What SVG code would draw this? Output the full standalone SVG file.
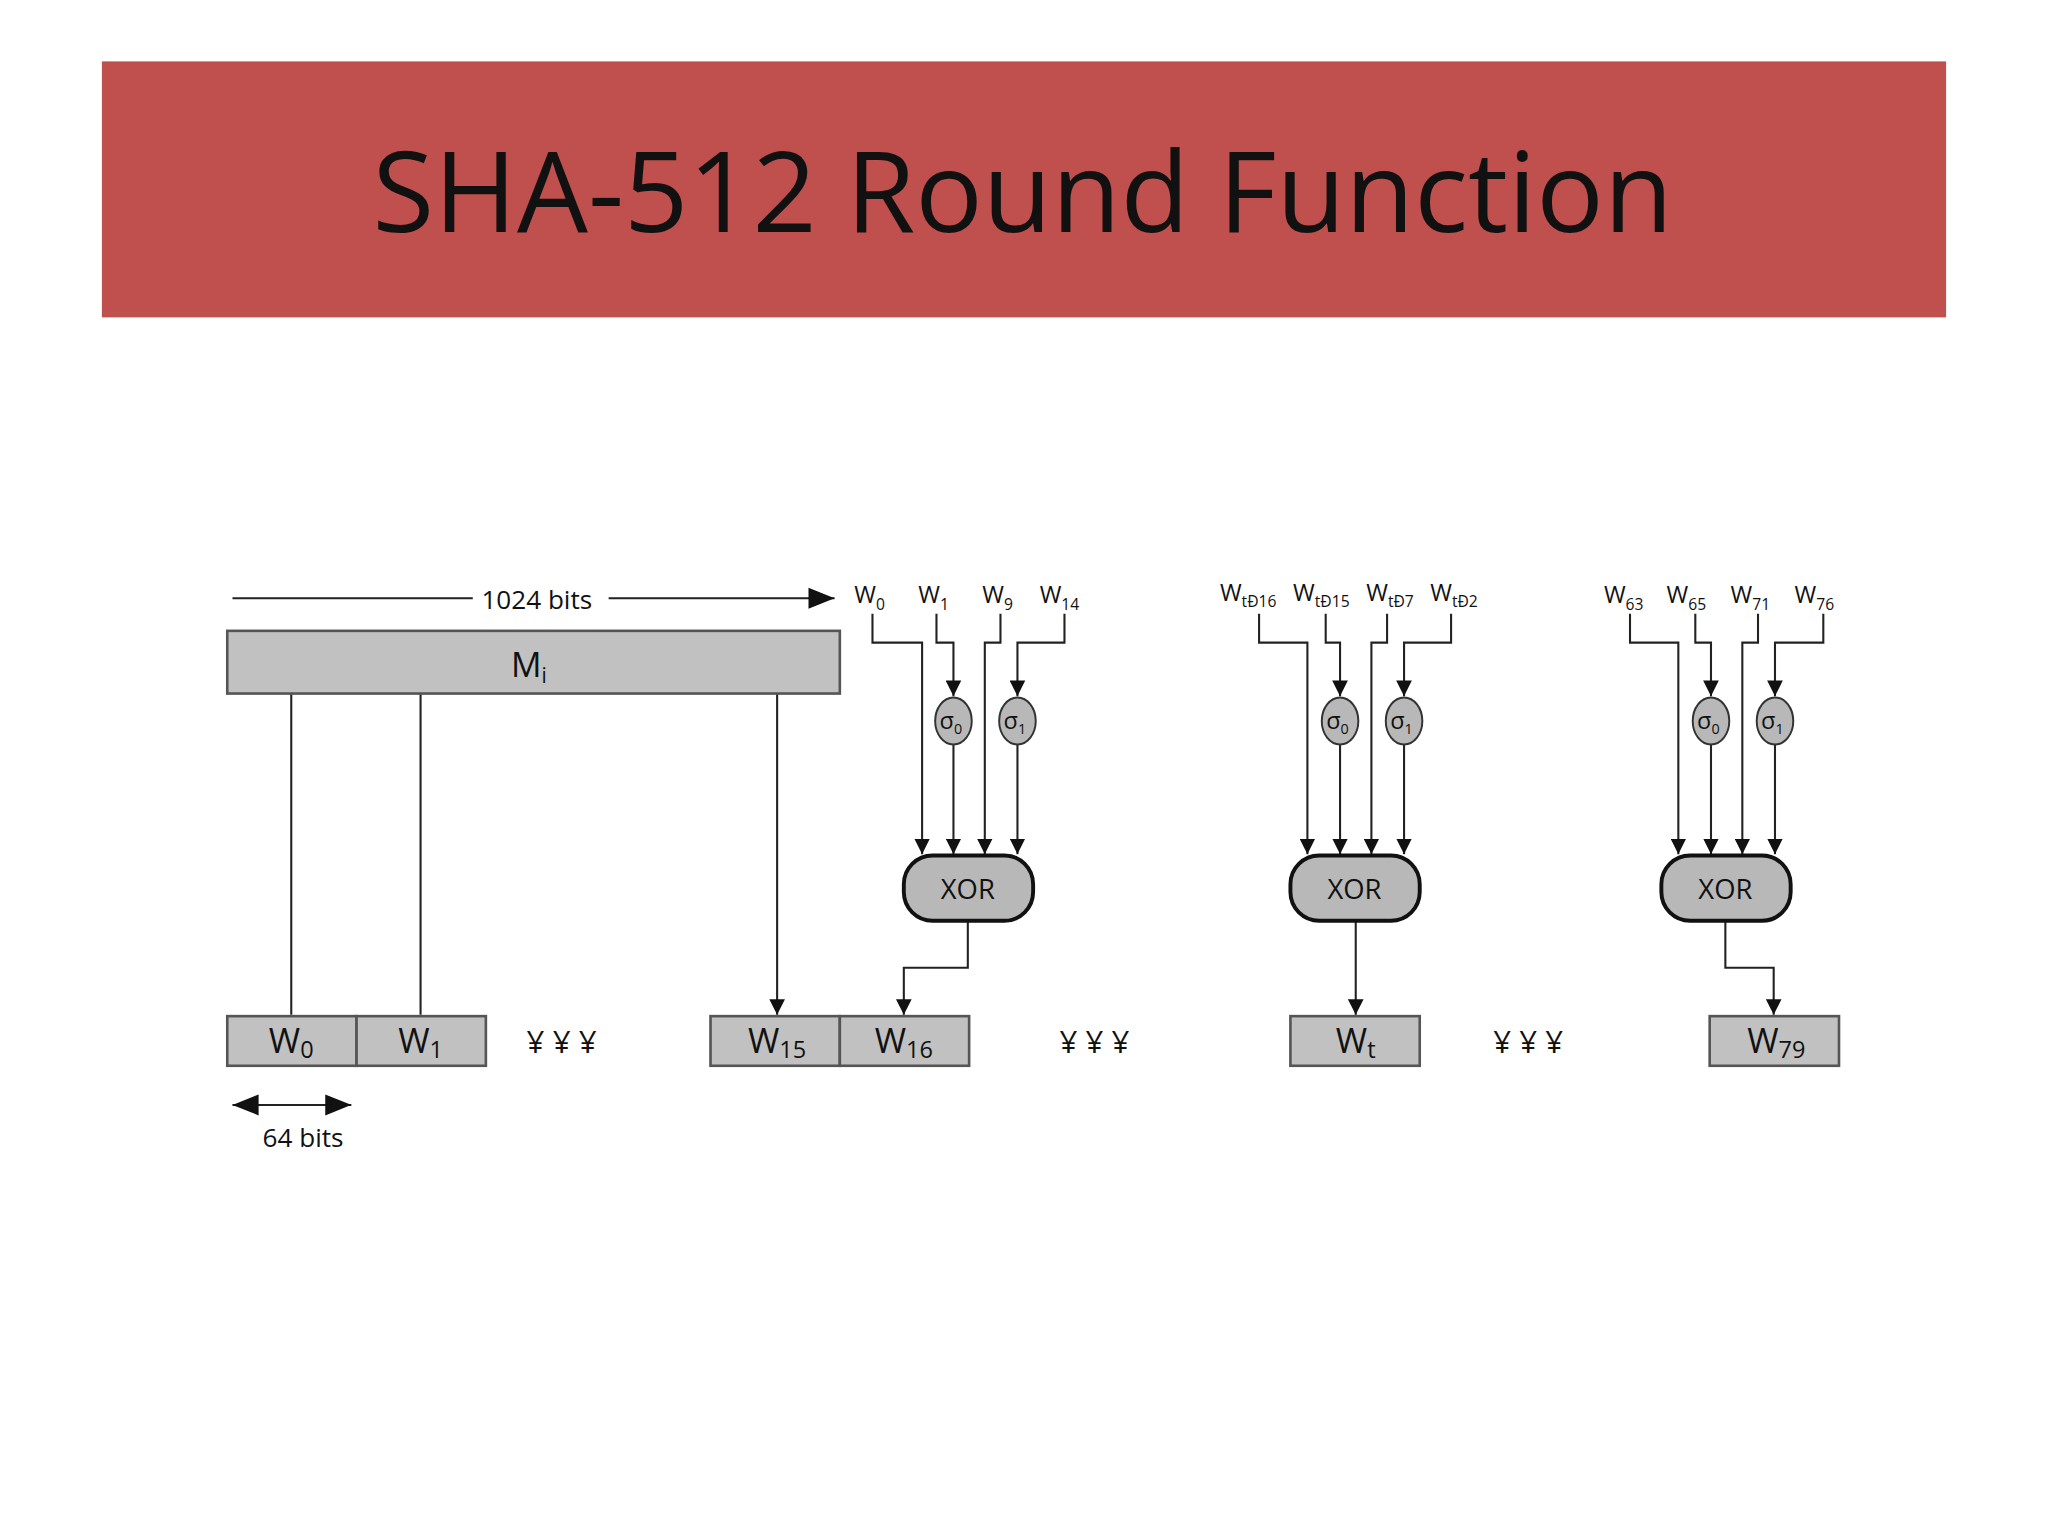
<svg xmlns="http://www.w3.org/2000/svg" width="2048" height="1536" viewBox="0 0 2048 1536">
<style>
.t{font-family:"Open Sans","Liberation Sans",sans-serif;fill:#111}
.ln{stroke:#222;stroke-width:1.6;fill:none}
.box{fill:#c0c1c0;stroke:#555;stroke-width:2}
.gx{fill:#b8b8b8;stroke:#111;stroke-width:3}
.sg{fill:#b8b8b8;stroke:#333;stroke-width:1.5}
</style>
<defs>
<marker id="a" viewBox="0 0 10 10" refX="10" refY="5" markerWidth="7" markerHeight="7" orient="auto" markerUnits="userSpaceOnUse"><path d="M0,0L10,5L0,10z" fill="#111"/></marker>
<marker id="b" viewBox="0 0 10 10" refX="10" refY="5" markerWidth="12" markerHeight="12" orient="auto" markerUnits="userSpaceOnUse"><path d="M0,0L10,5L0,10z" fill="#111"/></marker>
<marker id="c" viewBox="0 0 10 10" refX="10" refY="5" markerWidth="20" markerHeight="20" orient="auto-start-reverse" markerUnits="userSpaceOnUse"><path d="M0,1L10,5L0,9z" fill="#111"/></marker>
</defs>
<rect width="2048" height="1536" fill="#fff"/>
<g transform="scale(1.3061)">
<g id="title"><rect x="78" y="47" width="1412" height="196" fill="#c0504d"/>
<text class="t" x="783" y="178" font-size="86" text-anchor="middle">SHA-512 Round Function</text></g>

<g id="connectors">
<path class="ln" d="M362,458H178M466,458H639" marker-end="url(#c)"/>
<path class="ln" d="M178,846H269" marker-start="url(#c)" marker-end="url(#c)"/>
<path class="ln" d="M223,531V777M322,531V777M595,531V777" marker-end="url(#b)"/>
<g marker-end="url(#b)" class="ln">
<path d="M668,470V492H706V654"/><path d="M717,470V492H730V533"/><path d="M730,570V654"/>
<path d="M766,470V492H754V654"/><path d="M815,470V492H779V533"/><path d="M779,570V654"/>
<path d="M741,705V741H692V777"/>
<path d="M964,470V492H1001V654"/><path d="M1015,470V492H1026V533"/><path d="M1026,570V654"/>
<path d="M1062,470V492H1050V654"/><path d="M1111,470V492H1075V533"/><path d="M1075,570V654"/>
<path d="M1038,705V777"/>
<path d="M1248,470V492H1285V654"/><path d="M1298,470V492H1310V533"/><path d="M1310,570V654"/>
<path d="M1346,470V492H1334V654"/><path d="M1396,470V492H1359V533"/><path d="M1359,570V654"/>
<path d="M1321,705V741H1358V777"/>
</g>
</g>

<g id="labels" class="t" font-size="20">
<text x="411" y="466" text-anchor="middle">1024 bits</text>
<text x="232" y="878" text-anchor="middle">64 bits</text>
<text x="654" y="462" font-size="18">W<tspan font-size="12" dy="5">0</tspan></text>
<text x="703" y="462" font-size="18">W<tspan font-size="12" dy="5">1</tspan></text>
<text x="752" y="462" font-size="18">W<tspan font-size="12" dy="5">9</tspan></text>
<text x="796" y="462" font-size="18">W<tspan font-size="12" dy="5">14</tspan></text>
<text x="934" y="460" font-size="18">W<tspan font-size="12" dy="5">tÐ16</tspan></text>
<text x="990" y="460" font-size="18">W<tspan font-size="12" dy="5">tÐ15</tspan></text>
<text x="1046" y="460" font-size="18">W<tspan font-size="12" dy="5">tÐ7</tspan></text>
<text x="1095" y="460" font-size="18">W<tspan font-size="12" dy="5">tÐ2</tspan></text>
<text x="1228" y="462" font-size="18">W<tspan font-size="12" dy="5">63</tspan></text>
<text x="1276" y="462" font-size="18">W<tspan font-size="12" dy="5">65</tspan></text>
<text x="1325" y="462" font-size="18">W<tspan font-size="12" dy="5">71</tspan></text>
<text x="1374" y="462" font-size="18">W<tspan font-size="12" dy="5">76</tspan></text>
<text x="430" y="806" text-anchor="middle" font-size="24">¥ ¥ ¥</text>
<text x="838" y="806" text-anchor="middle" font-size="24">¥ ¥ ¥</text>
<text x="1170" y="806" text-anchor="middle" font-size="24">¥ ¥ ¥</text>
</g>

<g id="Mi"><rect class="box" x="174" y="483" width="469" height="48"/><text class="t" x="405" y="518" font-size="26" text-anchor="middle">M<tspan font-size="16" dy="5">i</tspan></text></g>
<g id="W0"><rect class="box" x="174" y="778" width="99" height="38"/><text class="t" x="223" y="806" font-size="26" text-anchor="middle">W<tspan font-size="18" dy="4">0</tspan></text></g>
<g id="W1"><rect class="box" x="273" y="778" width="99" height="38"/><text class="t" x="322" y="806" font-size="26" text-anchor="middle">W<tspan font-size="18" dy="4">1</tspan></text></g>
<g id="W15"><rect class="box" x="544" y="778" width="99" height="38"/><text class="t" x="595" y="806" font-size="26" text-anchor="middle">W<tspan font-size="18" dy="4">15</tspan></text></g>
<g id="W16"><rect class="box" x="643" y="778" width="99" height="38"/><text class="t" x="692" y="806" font-size="26" text-anchor="middle">W<tspan font-size="18" dy="4">16</tspan></text></g>
<g id="Wt"><rect class="box" x="988" y="778" width="99" height="38"/><text class="t" x="1038" y="806" font-size="26" text-anchor="middle">W<tspan font-size="18" dy="4">t</tspan></text></g>
<g id="W79"><rect class="box" x="1309" y="778" width="99" height="38"/><text class="t" x="1360" y="806" font-size="26" text-anchor="middle">W<tspan font-size="18" dy="4">79</tspan></text></g>

<g id="xor1"><rect class="gx" x="692" y="655" width="99" height="50" rx="22"/><text class="t" x="741" y="688" font-size="21" text-anchor="middle">XOR</text></g>
<g id="xor2"><rect class="gx" x="988" y="655" width="99" height="50" rx="22"/><text class="t" x="1037" y="688" font-size="21" text-anchor="middle">XOR</text></g>
<g id="xor3"><rect class="gx" x="1272" y="655" width="99" height="50" rx="22"/><text class="t" x="1321" y="688" font-size="21" text-anchor="middle">XOR</text></g>

<g id="sigmas" class="t" font-size="18" text-anchor="middle">
<ellipse class="sg" cx="730" cy="552" rx="14" ry="18"/><text x="728" y="558">σ<tspan font-size="11" dy="4">0</tspan></text>
<ellipse class="sg" cx="779" cy="552" rx="14" ry="18"/><text x="777" y="558">σ<tspan font-size="11" dy="4">1</tspan></text>
<ellipse class="sg" cx="1026" cy="552" rx="14" ry="18"/><text x="1024" y="558">σ<tspan font-size="11" dy="4">0</tspan></text>
<ellipse class="sg" cx="1075" cy="552" rx="14" ry="18"/><text x="1073" y="558">σ<tspan font-size="11" dy="4">1</tspan></text>
<ellipse class="sg" cx="1310" cy="552" rx="14" ry="18"/><text x="1308" y="558">σ<tspan font-size="11" dy="4">0</tspan></text>
<ellipse class="sg" cx="1359" cy="552" rx="14" ry="18"/><text x="1357" y="558">σ<tspan font-size="11" dy="4">1</tspan></text>
</g>
</g>
</svg>
